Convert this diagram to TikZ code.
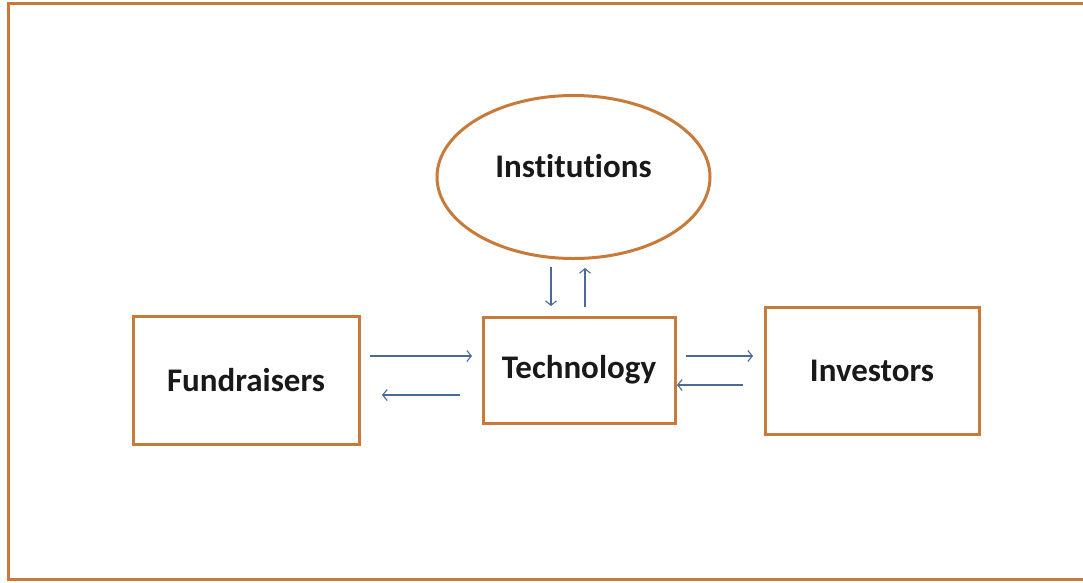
\documentclass[tikz,border=0pt]{standalone}
\usepackage{fontspec}
\setmainfont[Ligatures=NoCommon]{Carlito}
\usetikzlibrary{shapes.geometric,arrows.meta}
\definecolor{frameor}{RGB}{200,122,58}
\definecolor{arrowblue}{RGB}{72,108,150}
\tikzset{
  lbl/.style={font=\fontsize{33}{38}\selectfont\bfseries, text=black!90},
  box/.style={draw=frameor, line width=3pt, rectangle, fill=white, lbl},
  flow/.style={draw=arrowblue, line width=1.1pt, -{Straight Barb[length=4.5pt,width=11pt]}}
}
\begin{document}
\begin{tikzpicture}[x=1pt,y=-1pt]
\useasboundingbox (0,0) rectangle (1083,582);
\fill[white] (0,0) rectangle (1083,582);
\draw[frameor, line width=3pt] (1083,3) -- (8,3) -- (8,579) -- (1083,579);

\node[box, minimum width=226pt, minimum height=128pt] (fund) at (246,380) {Fundraisers};
\node[box, minimum width=192pt, minimum height=106pt] (tech) at (579,370) {Technology};
\node[box, minimum width=214pt, minimum height=127pt] (inv) at (872,370.5) {Investors};
\node[draw=frameor, line width=3pt, ellipse, minimum width=273pt, minimum height=163pt, inner sep=0pt] (inst) at (573.5,177) {};
\node[lbl] (instlabel) at (573.5,166) {Institutions};

% vertical arrows
\coordinate (d1) at (551,267); \coordinate (d2) at (551,306);
\coordinate (u1) at (585,307); \coordinate (u2) at (585,268);
\draw[flow] (d1) -- (d2);
\draw[flow] (u1) -- (u2);
% fundraisers <-> technology
\coordinate (a1) at (370,356); \coordinate (a2) at (472,356);
\coordinate (b1) at (460,395); \coordinate (b2) at (382,395);
\draw[flow] (a1) -- (a2);
\draw[flow] (b1) -- (b2);
% technology <-> investors
\coordinate (c1) at (686,356); \coordinate (c2) at (753,356);
\coordinate (e1) at (743,385); \coordinate (e2) at (677,385);
\draw[flow] (c1) -- (c2);
\draw[flow] (e1) -- (e2);
\end{tikzpicture}
\end{document}
